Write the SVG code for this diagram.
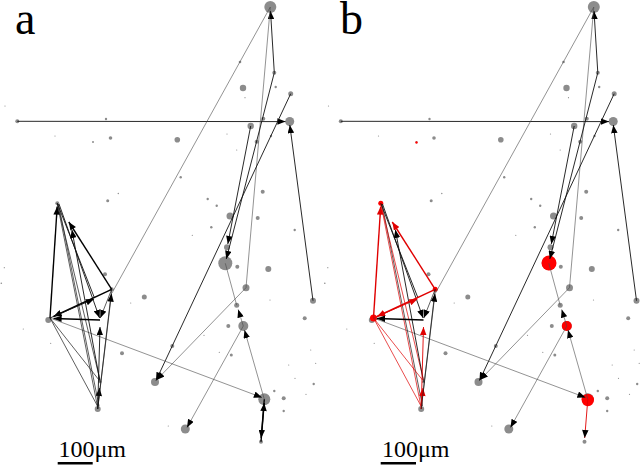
<svg xmlns="http://www.w3.org/2000/svg" xmlns:xlink="http://www.w3.org/1999/xlink" width="640" height="465" viewBox="0 0 640 465">
<style>
.n{fill:#8c8c8c}
.rn{fill:#ff0000}
.e{fill:none;stroke:#000;stroke-width:0.9}
.w1{stroke-width:0.6;stroke:#4a4a4a}
.w0{stroke-width:0.7;stroke:#1a1a1a}
.w2{stroke-width:0.9;stroke:#111}
.w3{stroke-width:1.4;stroke:#000}
.r{stroke:#e00000}
.ma{marker-end:url(#ak)}
.mr{marker-end:url(#ar)}
.lab{font-family:"Liberation Serif","Times New Roman",serif;fill:#000}
</style>
<defs>
<marker id="ak" viewBox="0 0 10 8" refX="10" refY="4" markerWidth="8.5" markerHeight="6.5" markerUnits="userSpaceOnUse" orient="auto"><path d="M0,0 L10,4 L0,8 z" fill="#000"/></marker>
<marker id="ar" viewBox="0 0 10 8" refX="10" refY="4" markerWidth="8.5" markerHeight="6.5" markerUnits="userSpaceOnUse" orient="auto"><path d="M0,0 L10,4 L0,8 z" fill="#e00000"/></marker>
</defs>
<rect width="640" height="465" fill="#fff"/>

<g id="panel-a">
<g id="nodes-a" class="n">
<circle id="n1" cx="270.3" cy="7" r="6"/>
<circle id="n2" cx="240" cy="62" r="1.3"/>
<circle id="n3" cx="274.3" cy="72.7" r="2"/>
<circle id="n4" cx="243" cy="88" r="3.2"/>
<circle id="n5" cx="275.7" cy="87" r="1.2"/>
<circle id="n6" cx="245" cy="97.7" r="0.6"/>
<circle id="n7" cx="290.7" cy="93.7" r="2.5"/>
<circle id="n8" cx="5" cy="106" r="0.6"/>
<circle id="n9" cx="17.3" cy="121.3" r="2"/>
<circle id="n10" cx="106" cy="119" r="1.2"/>
<circle id="n11" cx="289.7" cy="121.5" r="4.5"/>
<circle id="n12" cx="263.3" cy="118.7" r="2"/>
<circle id="n13" cx="250.7" cy="126" r="3.2"/>
<circle id="n14" cx="55" cy="136" r="0.6"/>
<circle id="n15" cx="110.5" cy="138" r="1.8"/>
<circle id="n16" cx="93" cy="142" r="1"/>
<circle id="n17" cx="177.3" cy="139.7" r="2.8"/>
<circle id="n18" cx="227" cy="134" r="0.6"/>
<circle id="n19" cx="256.7" cy="141.7" r="2"/>
<circle id="n20" cx="271" cy="136" r="1.2"/>
<circle id="n21" cx="236.7" cy="150" r="0.6"/>
<circle id="n22" cx="107.7" cy="200.7" r="1.5"/>
<circle id="n23" cx="118.3" cy="193.5" r="0.7"/>
<circle id="n24" cx="57.3" cy="203.3" r="2"/>
<circle id="n25" cx="180.7" cy="177.3" r="1.2"/>
<circle id="n26" cx="262.7" cy="191.7" r="2"/>
<circle id="n27" cx="207.7" cy="199" r="1.2"/>
<circle id="n28" cx="216.7" cy="205.7" r="1.2"/>
<circle id="n29" cx="230" cy="216" r="3.5"/>
<circle id="n30" cx="257.7" cy="218" r="2"/>
<circle id="n31" cx="211.3" cy="227.3" r="1.2"/>
<circle id="n32" cx="192.3" cy="235.3" r="0.6"/>
<circle id="n33" cx="294.7" cy="230" r="1.2"/>
<circle id="n34" cx="227" cy="247.3" r="3"/>
<circle id="n35" cx="225.3" cy="263.3" r="7"/>
<circle id="n36" cx="237.3" cy="266.7" r="2"/>
<circle id="n37" cx="268.3" cy="269" r="3"/>
<circle id="n38" cx="4.3" cy="267.7" r="0.6"/>
<circle id="n39" cx="1.3" cy="283.3" r="0.8"/>
<circle id="n40" cx="105" cy="274.3" r="2"/>
<circle id="n41" cx="111.7" cy="289.3" r="2"/>
<circle id="n42" cx="144.3" cy="297" r="2.5"/>
<circle id="n43" cx="130.7" cy="303" r="0.6"/>
<circle id="n44" cx="270" cy="300" r="0.6"/>
<circle id="n45" cx="313" cy="300.7" r="3"/>
<circle id="n46" cx="246" cy="287.7" r="3.5"/>
<circle id="n47" cx="236.7" cy="305.3" r="2.5"/>
<circle id="n48" cx="304.7" cy="318.3" r="2"/>
<circle id="n49" cx="48.3" cy="320" r="3"/>
<circle id="n50" cx="243.3" cy="326" r="5"/>
<circle id="n51" cx="228.3" cy="326" r="2"/>
<circle id="n52" cx="23.3" cy="329" r="0.6"/>
<circle id="n53" cx="50.7" cy="343.3" r="0.6"/>
<circle id="n54" cx="122" cy="353.3" r="2"/>
<circle id="n55" cx="172.3" cy="346" r="2"/>
<circle id="n56" cx="204" cy="335.3" r="0.6"/>
<circle id="n57" cx="231.3" cy="355" r="1.5"/>
<circle id="n58" cx="219.3" cy="352.3" r="0.6"/>
<circle id="n59" cx="155" cy="382" r="4"/>
<circle id="n60" cx="97.7" cy="409" r="3"/>
<circle id="n61" cx="100" cy="381.7" r="1.5"/>
<circle id="n62" cx="264.3" cy="399.3" r="6"/>
<circle id="n63" cx="274.3" cy="391" r="1.2"/>
<circle id="n64" cx="283.7" cy="398.3" r="2"/>
<circle id="n65" cx="283.7" cy="411" r="1.2"/>
<circle id="n66" cx="313.7" cy="384" r="1.2"/>
<circle id="n67" cx="306" cy="394.3" r="0.6"/>
<circle id="n68" cx="315.7" cy="363.3" r="0.6"/>
<circle id="n69" cx="310.7" cy="350" r="0.6"/>
<circle id="n70" cx="295" cy="378.3" r="0.6"/>
<circle id="n71" cx="288.7" cy="365" r="0.6"/>
<circle id="n72" cx="185.3" cy="429" r="4.5"/>
<circle id="n73" cx="168.3" cy="426" r="0.6"/>
<circle id="n74" cx="261" cy="441.7" r="2"/>
</g>
<g id="connectors-a">
<g id="common-edges">
<line class="e w2 ma" x1="17.3" y1="121.3" x2="285.5" y2="121.6"/>
<line class="e w2 ma" x1="274.3" y1="72.7" x2="270.5" y2="11"/>
<line class="e w1" x1="270.3" y1="7" x2="112" y2="293"/>
<line class="e w1" x1="270.3" y1="7" x2="246" y2="287.7"/>
<line class="e w2 ma" x1="313" y1="300.7" x2="289.8" y2="125"/>
<line class="e w2 ma" x1="250.7" y1="126" x2="227.8" y2="244"/>
<line class="e w2 ma" x1="274.3" y1="72.7" x2="226.3" y2="259"/>
<line class="e w2 ma" x1="290.7" y1="93.7" x2="156" y2="380.5"/>
<line class="e w1 ma" x1="246" y1="287.7" x2="156.5" y2="380"/>
<line class="e w1 ma" x1="264.3" y1="399.3" x2="244.5" y2="330"/>
<line class="e w1 ma" x1="243.3" y1="326" x2="238.2" y2="309.5"/>
<line class="e w1" x1="236.7" y1="305.3" x2="225.3" y2="263.3"/>
<line class="e w1 ma" x1="50" y1="318" x2="262" y2="397.5"/>
<line class="e w1 ma" x1="243.3" y1="326" x2="187" y2="427.5"/>
</g>
<line class="e w3 ma" x1="261" y1="441.7" x2="264.2" y2="403"/>
<line class="e w3 ma" x1="264.3" y1="399.3" x2="261.2" y2="438"/>
<line class="e w3 ma" x1="50" y1="318" x2="57.2" y2="206.5"/>
<line class="e w0" x1="57.3" y1="203.3" x2="97.5" y2="406.5"/>
<line class="e w0" x1="58.5" y1="204" x2="99" y2="406"/>
<line class="e w0" x1="57.3" y1="203.3" x2="100" y2="380"/>
<line class="e w2 ma" x1="59" y1="204" x2="99.6" y2="318"/>
<line class="e w2" x1="57.3" y1="203.3" x2="94.5" y2="298"/>
<line class="e w3 ma" x1="111.7" y1="289.3" x2="68.8" y2="222"/>
<line class="e w2 ma" x1="100" y1="381.7" x2="71.9" y2="229.8"/>
<line class="e w3 ma" x1="111.7" y1="289.3" x2="53.5" y2="316.5"/>
<line class="e w2 ma" x1="50" y1="318" x2="94" y2="299"/>
<line class="e w3 ma" x1="100" y1="320" x2="53.5" y2="318.5"/>
<line class="e w0" x1="50" y1="318" x2="97.5" y2="406"/>
<line class="e w0" x1="50" y1="318" x2="99" y2="380"/>
<line class="e w0 ma" x1="111.7" y1="289.3" x2="100.3" y2="318"/>
<line class="e w0" x1="111.7" y1="289.3" x2="98" y2="406"/>
<line class="e w2 ma" x1="97.7" y1="409" x2="99.5" y2="388"/>
<line class="e w2 ma" x1="97.7" y1="409" x2="100" y2="327"/>
<line class="e w0 ma" x1="97.7" y1="409" x2="111.5" y2="293.5"/>
</g>
</g>

<g id="panel-b" transform="translate(323.5,0)">
<use xlink:href="#nodes-a" href="#nodes-a"/>
<g id="nodes-b-red" class="rn">
<circle id="rb1" cx="57.3" cy="203.3" r="2.5"/>
<circle id="rb2" cx="50" cy="318" r="3.5"/>
<circle id="rb3" cx="111.7" cy="289.3" r="2.5"/>
<circle id="rb4" cx="225.5" cy="263" r="7.5"/>
<circle id="rb5" cx="243.3" cy="326" r="5"/>
<circle id="rb6" cx="264.3" cy="400" r="6.2"/>
<circle id="rb7" cx="93" cy="142.5" r="1.2"/>
</g>
<g id="connectors-b">
<use xlink:href="#common-edges" href="#common-edges"/>
<line class="e w2 r ma" x1="264.3" y1="399.3" x2="261.2" y2="438"/>
<line class="e w3 r mr" x1="50" y1="318" x2="57.2" y2="206.5"/>
<line class="e w0 r" x1="57.3" y1="203.3" x2="97.5" y2="406.5"/>
<line class="e w0" x1="58.5" y1="204" x2="99" y2="406"/>
<line class="e w0 r" x1="57.3" y1="203.3" x2="100" y2="380"/>
<line class="e w2 ma" x1="59" y1="204" x2="99.6" y2="318"/>
<line class="e w2" x1="57.3" y1="203.3" x2="94.5" y2="298"/>
<line class="e w3 r mr" x1="111.7" y1="289.3" x2="68.8" y2="222"/>
<line class="e w2 ma" x1="100" y1="381.7" x2="71.9" y2="229.8"/>
<line class="e w3 r mr" x1="111.7" y1="289.3" x2="53.5" y2="316.5"/>
<line class="e w2 r mr" x1="50" y1="318" x2="94" y2="299"/>
<line class="e w3 ma" x1="100" y1="320" x2="53.5" y2="318.5"/>
<line class="e w0 r" x1="50" y1="318" x2="97.5" y2="406"/>
<line class="e w0 r" x1="50" y1="318" x2="99" y2="380"/>
<line class="e w0 ma" x1="111.7" y1="289.3" x2="100.3" y2="318"/>
<line class="e w0" x1="111.7" y1="289.3" x2="98" y2="406"/>
<line class="e w2 r mr" x1="97.7" y1="409" x2="99.5" y2="388"/>
<line class="e w2 r mr" x1="97.7" y1="409" x2="100" y2="327"/>
<line class="e w0 ma" x1="97.7" y1="409" x2="111.5" y2="293.5"/>
</g>
</g>

<g id="labels">
<text class="lab" x="15" y="34" font-size="46">a</text>
<text class="lab" x="340" y="34" font-size="46">b</text>
<text class="lab" x="58.5" y="457.3" font-size="24">100μm</text>
<text class="lab" x="382" y="457.3" font-size="24">100μm</text>
<line x1="57.7" y1="463.3" x2="92.7" y2="463.3" stroke="#000" stroke-width="2.4"/>
<line x1="380.7" y1="463.3" x2="416" y2="463.3" stroke="#000" stroke-width="2.4"/>
</g>
</svg>
